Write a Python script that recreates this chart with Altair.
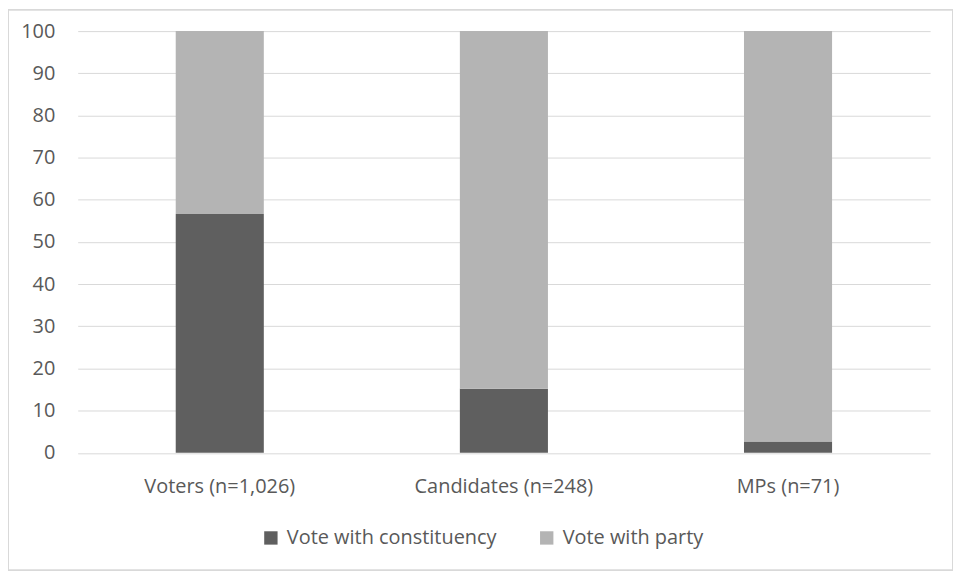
import altair as alt
import pandas as pd

groups = ["Voters (n=1,026)", "Candidates (n=248)", "MPs (n=71)"]
series = ["Vote with constituency", "Vote with party"]
constituency = [56.6, 15.2, 2.7]
party = [43.4, 84.8, 97.3]

rows = []
for g, c, p in zip(groups, constituency, party):
    rows.append({"group": g, "series": series[0], "value": c, "ord": 0})
    rows.append({"group": g, "series": series[1], "value": p, "ord": 1})
df = pd.DataFrame(rows)

FONT = "Open Sans"
TXT = "#595959"
FS = 20

bars = alt.Chart(df).mark_bar().encode(
    x=alt.X("group:N", sort=groups, title=None,
            scale=alt.Scale(paddingInner=0.69, paddingOuter=0.345),
            axis=alt.Axis(labelAngle=0, domain=False, ticks=False, labelPadding=24,
                          labelFont=FONT, labelFontSize=FS, labelColor=TXT, labelLimit=0)),
    y=alt.Y("value:Q", stack="zero", title=None,
            scale=alt.Scale(domain=[0, 100], nice=False),
            axis=alt.Axis(values=list(range(0, 101, 10)), domain=False, ticks=False,
                          labelPadding=23, gridColor="#d9d9d9", gridWidth=1,
                          labelFont=FONT, labelFontSize=FS, labelColor=TXT)),
    color=alt.Color("series:N", sort=series,
                    scale=alt.Scale(domain=series, range=["#5f5f5f", "#b4b4b4"]),
                    legend=alt.Legend(title=None, orient="none", direction="horizontal",
                                      legendX=184, legendY=499, symbolType="square",
                                      symbolSize=180, symbolStrokeWidth=0,
                                      labelFont=FONT, labelFontSize=FS, labelColor=TXT,
                                      labelLimit=0, columnPadding=40, labelOffset=6)),
    order=alt.Order("ord:Q", sort="ascending"),
)

border = alt.Chart(df).mark_rect(fill=None, stroke="#d9d9d9", strokeWidth=1).encode(
    x=alt.value(-69.5), x2=alt.value(878.5), y=alt.value(-21.5), y2=alt.value(541.5)
)

chart = alt.layer(border, bars).properties(
    width=856, height=423.5,
    autosize=alt.AutoSizeParams(type="none"),
    padding={"left": 70, "top": 22, "right": 23, "bottom": 119},
).configure_view(stroke=None)

chart.save("out.html", embed_options={"renderer": "svg", "actions": False})
